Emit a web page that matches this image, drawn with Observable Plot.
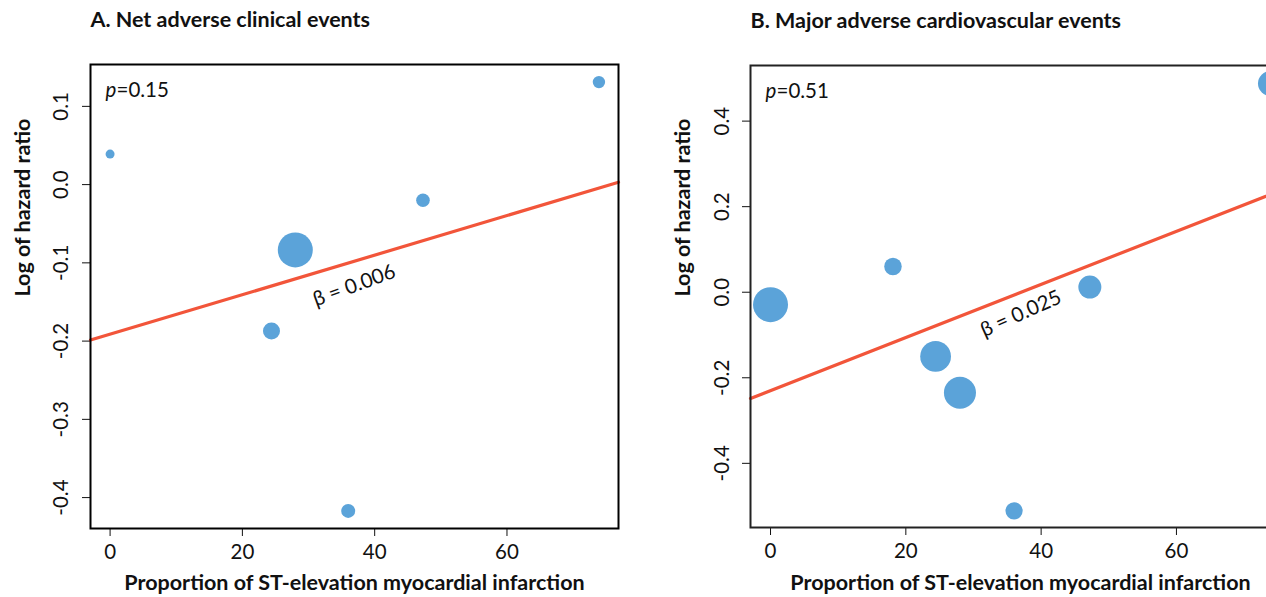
<!DOCTYPE html>
<html>
<head>
<meta charset="utf-8">
<script src="https://cdn.jsdelivr.net/npm/d3@7"></script>
<script src="https://cdn.jsdelivr.net/npm/@observablehq/plot@0.6"></script>
<style>
  html, body { margin: 0; padding: 0; background: #fff; overflow: hidden; }
  #wrap { position: relative; width: 1266px; height: 597px; overflow: hidden; }
  #panelA, #panelB { position: absolute; top: 0; height: 597px; }
  #panelA { left: 0; width: 640px; }
  #panelB { left: 640px; width: 672px; }
  #wrap svg { max-width: none !important; overflow: visible; }
</style>
</head>
<body>
<div id="wrap"><div id="panelA"></div><div id="panelB"></div></div>
<script>
// ---- Data ----
const titleA = "A. Net adverse clinical events";
const titleB = "B. Major adverse cardiovascular events";
const xLabel = "Proportion of ST-elevation myocardial infarction";
const yLabel = "Log of hazard ratio";

// Panel A: studies (STEMI %, log HR, relative weight %)
const stemiA = [0, 24.4, 28.0, 36.0, 47.3, 73.9];
const logHRA = [0.039, -0.187, -0.0835, -0.417, -0.020, 0.131];
const weightA = [3.8, 13.6, 57.5, 9.2, 8.7, 7.2];
// Panel B
const stemiB = [0, 18.1, 24.4, 28.0, 36.0, 47.2, 73.9];
const logHRB = [-0.029, 0.060, -0.150, -0.235, -0.511, 0.012, 0.488];
const weightB = [24.7, 6.2, 19.1, 20.7, 6.0, 10.7, 12.6];

// Meta-regression lines (end points across the plotting region)
const fitXA = [-2.96, 76.86];
const fitYA = [-0.1987, 0.003];
const fitXB = [-2.96, 76.86];
const fitYB = [-0.2484, 0.247];

// Annotations
const pA = "=0.15", pB = "=0.51";
const betaA = {text: "β = 0.006", x: 36.9, y: -0.129};
const betaB = {text: "β = 0.025", x: 37.0, y: -0.050};

// Axis ticks and domains
const xTicks = [0, 20, 40, 60];
const yTicksA = [-0.4, -0.3, -0.2, -0.1, 0.0, 0.1];
const yTicksB = [-0.4, -0.2, 0.0, 0.2, 0.4];
const xDomain = [-2.96, 76.86];
const yDomainA = [-0.4395, 0.1535];
const yDomainB = [-0.550, 0.530];

const DOT = "#5ba3d9";
const LINE = "#f2553a";
const FONT = "Lato, 'Open Sans', sans-serif";
const FS = 20.5;   // regular text
const FB = 21.5;   // bold titles

function panel({title, stemi, logHR, weight, fitX, fitY, pText, beta, betaRotate, yTicks, yDomain,
                width, marginLeft, marginRight, marginTop, marginBottom, yTickPadding, frameStroke, xLabelDy}) {
  const pts = stemi.map((x, i) => ({x, y: logHR[i], w: weight[i]}));
  const fit = fitX.map((x, i) => ({x, y: fitY[i]}));
  return Plot.plot({
    width, height: 597,
    marginLeft, marginRight, marginTop, marginBottom,
    style: {fontFamily: FONT, fontSize: FS + "px", color: "#111", background: "transparent", overflow: "visible"},
    x: {domain: xDomain},
    y: {domain: yDomain},
    r: {type: "sqrt", domain: [0, d3.max(weight)], range: [0, 17.5]},
    marks: [
      Plot.axisX({ticks: xTicks, tickSize: 8, tickPadding: 8, tickFormat: d => String(d), label: null, fontSize: FS}),
      Plot.axisY({ticks: yTicks, tickSize: 8, tickRotate: -90, tickPadding: yTickPadding,
                  tickFormat: d => d.toFixed(1), label: null, fontSize: FS}),
      Plot.dot(pts, {x: "x", y: "y", r: "w", fill: DOT, stroke: null}),
      Plot.line(fit, {x: "x", y: "y", stroke: LINE, strokeWidth: 3.2}),
      Plot.text([beta], {x: "x", y: "y", text: "text", rotate: betaRotate, fontSize: FS, fill: "#111"}),
      Plot.text(["p"], {text: d => d, frameAnchor: "top-left", lineAnchor: "middle", textAnchor: "start", dx: 15, dy: 26, fontStyle: "italic", fontSize: FS, fill: "#111"}),
      Plot.text([pText], {text: d => d, frameAnchor: "top-left", lineAnchor: "middle", textAnchor: "start", dx: 26, dy: 26, fontSize: FS, fill: "#111"}),
      Plot.text([title], {text: d => d, frameAnchor: "top-left", lineAnchor: "middle", textAnchor: "start", dx: 0, dy: -44, fontWeight: "bold", fontSize: FB, fill: "#111"}),
      Plot.text([xLabel], {text: d => d, frameAnchor: "bottom", lineAnchor: "middle", dy: xLabelDy, fontWeight: "bold", fontSize: FB, fill: "#111"}),
      Plot.text([yLabel], {text: d => d, frameAnchor: "left", lineAnchor: "middle", dx: -67, rotate: -90, fontWeight: "bold", fontSize: FB, fill: "#111"}),
      Plot.frame({stroke: frameStroke, strokeWidth: 2})
    ]
  });
}

document.getElementById("panelA").appendChild(panel({
  title: titleA, stemi: stemiA, logHR: logHRA, weight: weightA, fitX: fitXA, fitY: fitYA,
  pText: pA, beta: betaA, betaRotate: -20, yTicks: yTicksA, yDomain: yDomainA,
  width: 640, marginLeft: 90, marginRight: 22, marginTop: 64, marginBottom: 69, yTickPadding: 15, frameStroke: "#000", xLabelDy: 55
}));
document.getElementById("panelB").appendChild(panel({
  title: titleB, stemi: stemiB, logHR: logHRB, weight: weightB, fitX: fitXB, fitY: fitYB,
  pText: pB, beta: betaB, betaRotate: -24, yTicks: yTicksB, yDomain: yDomainB,
  width: 672, marginLeft: 110, marginRight: 22, marginTop: 65, marginBottom: 70, yTickPadding: 14, frameStroke: "#222", xLabelDy: 56
}));
</script>
</body>
</html>
